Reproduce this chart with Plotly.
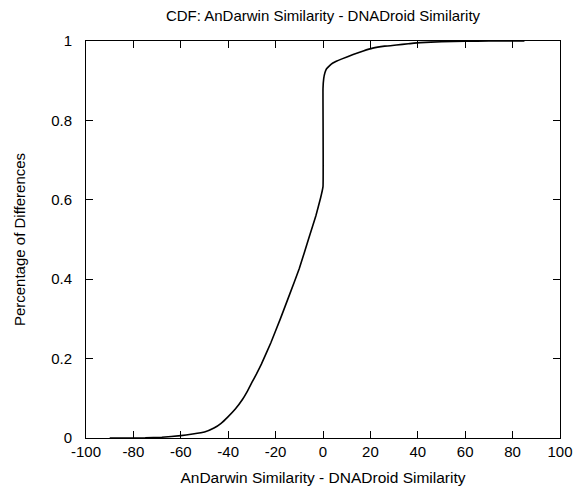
import plotly.graph_objects as go

diff_x = [-90, -75, -68, -60, -55, -50, -46, -43, -40, -37, -34, -32, -30, -28, -26, -22,
          -18, -14, -10, -6, -3, -1, 0, 0, 0.3, 0.8, 1.5, 2.8, 4, 5.6, 8, 12.7, 17, 21,
          26, 31, 36, 41, 50, 60, 70, 85]
cdf_y = [0, 0.0005, 0.002, 0.006, 0.01, 0.015, 0.025, 0.037, 0.054, 0.073, 0.097, 0.117,
         0.14, 0.162, 0.186, 0.24, 0.30, 0.363, 0.427, 0.503, 0.56, 0.605, 0.633, 0.88,
         0.905, 0.92, 0.93, 0.938, 0.944, 0.949, 0.955, 0.966, 0.975, 0.982, 0.987, 0.99,
         0.993, 0.996, 0.998, 0.9995, 1.0, 1.0]

x_ticks = [-100, -80, -60, -40, -20, 0, 20, 40, 60, 80, 100]
y_ticks = [0, 0.2, 0.4, 0.6, 0.8, 1]
y_tick_text = ["0", "0.2", "0.4", "0.6", "0.8", "1"]

fig = go.Figure()
fig.add_trace(go.Scatter(x=diff_x, y=cdf_y, mode="lines",
                         line=dict(color="black", width=1.6, shape="spline", smoothing=0.3),
                         showlegend=False, hoverinfo="skip"))

FAM = "Liberation Sans, Arial, sans-serif"
font = dict(family=FAM, size=15, color="black")

# page body adds an 8px offset; margins compensate
fig.update_layout(
    width=587, height=487,
    margin=dict(l=78, r=35, t=33, b=57),
    paper_bgcolor="white", plot_bgcolor="white",
    font=font,
    title=dict(text="CDF: AnDarwin Similarity - DNADroid Similarity",
               x=0.5, xref="paper", y=1 - 8 / 487, yref="container", yanchor="middle",
               font=dict(family=FAM, size=15, color="black")),
)
fig.update_xaxes(range=[-100, 100], tickvals=x_ticks, ticktext=[str(v) for v in x_ticks],
                 ticks="inside", ticklen=7, tickwidth=1, tickcolor="black",
                 showline=True, linecolor="black", linewidth=1, mirror="allticks",
                 showgrid=False, zeroline=False, automargin=False,
                 title=dict(text="AnDarwin Similarity - DNADroid Similarity", standoff=13,
                            font=dict(family=FAM, size=15.5, color="black")),
                 tickfont=font)
fig.update_yaxes(range=[0, 1], tickvals=y_ticks, ticktext=y_tick_text,
                 ticks="inside", ticklen=7, tickwidth=1, tickcolor="black",
                 showline=True, linecolor="black", linewidth=1, mirror="allticks",
                 showgrid=False, zeroline=False, automargin=False,
                 ticklabelstandoff=10,
                 title=dict(text="Percentage of Differences", standoff=21, font=font),
                 tickfont=font)

fig.write_html("out.html")
